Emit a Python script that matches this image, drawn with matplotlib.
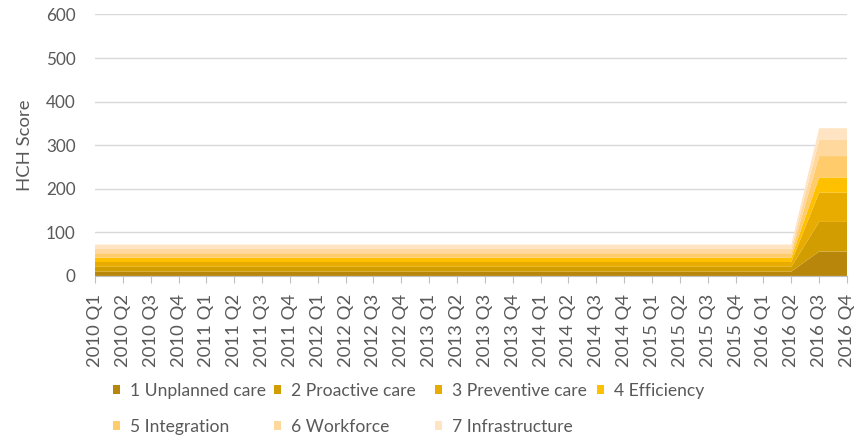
import matplotlib.pyplot as plt
import numpy as np

plt.rcParams['font.family'] = ['Lato', 'DejaVu Sans']

# quarters 2010 Q1 .. 2016 Q4
years = [2010, 2011, 2012, 2013, 2014, 2015, 2016]
quarters = [f"{y} Q{q}" for y in years for q in range(1, 5)]

series_names = ["1 Unplanned care", "2 Proactive care", "3 Preventive care",
                "4 Efficiency", "5 Integration", "6 Workforce", "7 Infrastructure"]

# values per series: flat until 2016 Q2, then a jump in 2016 Q3/Q4
base_vals = [10, 11, 11, 10, 10, 10, 10]
late_vals = [56, 68, 67, 35, 49, 37, 27]
n_flat = 26  # 2010 Q1 .. 2016 Q2

unplanned = [base_vals[0]] * n_flat + [late_vals[0]] * 2
proactive = [base_vals[1]] * n_flat + [late_vals[1]] * 2
preventive = [base_vals[2]] * n_flat + [late_vals[2]] * 2
efficiency = [base_vals[3]] * n_flat + [late_vals[3]] * 2
integration = [base_vals[4]] * n_flat + [late_vals[4]] * 2
workforce = [base_vals[5]] * n_flat + [late_vals[5]] * 2
infrastructure = [base_vals[6]] * n_flat + [late_vals[6]] * 2

colors = ["#B8860B", "#D29D00", "#E8AC00", "#FFC000",
          "#FFCB6B", "#FFD89E", "#FFE4C4"]

fig = plt.figure(figsize=(8.68, 4.38), dpi=100)
ax = fig.add_axes([0.1094, 0.370, 0.8664, 0.597])

x = np.arange(len(quarters))
polys = ax.stackplot(x, unplanned, proactive, preventive, efficiency,
                     integration, workforce, infrastructure,
                     colors=colors, linewidth=0)

ax.set_xlim(0, len(quarters) - 1)
ax.set_ylim(0, 600)
ax.set_yticks(range(0, 601, 100))
ax.yaxis.grid(True, color="#D9D9D9", linewidth=1)
ax.set_axisbelow(True)

for s in ["top", "right", "left"]:
    ax.spines[s].set_visible(False)
ax.spines["bottom"].set_color("#BFBFBF")
ax.spines["bottom"].set_zorder(5)

ax.set_xticks(x)
ax.set_xticklabels(quarters, rotation=90, fontsize=13.3, color="#595959")
ax.tick_params(axis="x", length=5, color="#BFBFBF", pad=8)
ax.tick_params(axis="y", length=0, labelsize=12.3, labelcolor="#595959", pad=14)

ax.set_ylabel("HCH Score", fontsize=13.3, color="#595959", labelpad=9)

# legend: 4 evenly spaced columns, filled row by row (Excel style)
col_x = [113, 274, 435, 597]
columns = [[0, 4], [1, 5], [2, 6], [3]]
for cx, idx in zip(col_x, columns):
    leg = fig.legend([polys[i] for i in idx], [series_names[i] for i in idx],
                     loc="upper left", bbox_to_anchor=(cx / 868, 1 - 383 / 438),
                     frameon=False, fontsize=12.6, handlelength=0.4, handleheight=0.4,
                     handletextpad=0.55, labelspacing=1.15, borderpad=0,
                     borderaxespad=0, labelcolor="#595959")

fig.savefig("out.png", dpi=100)
